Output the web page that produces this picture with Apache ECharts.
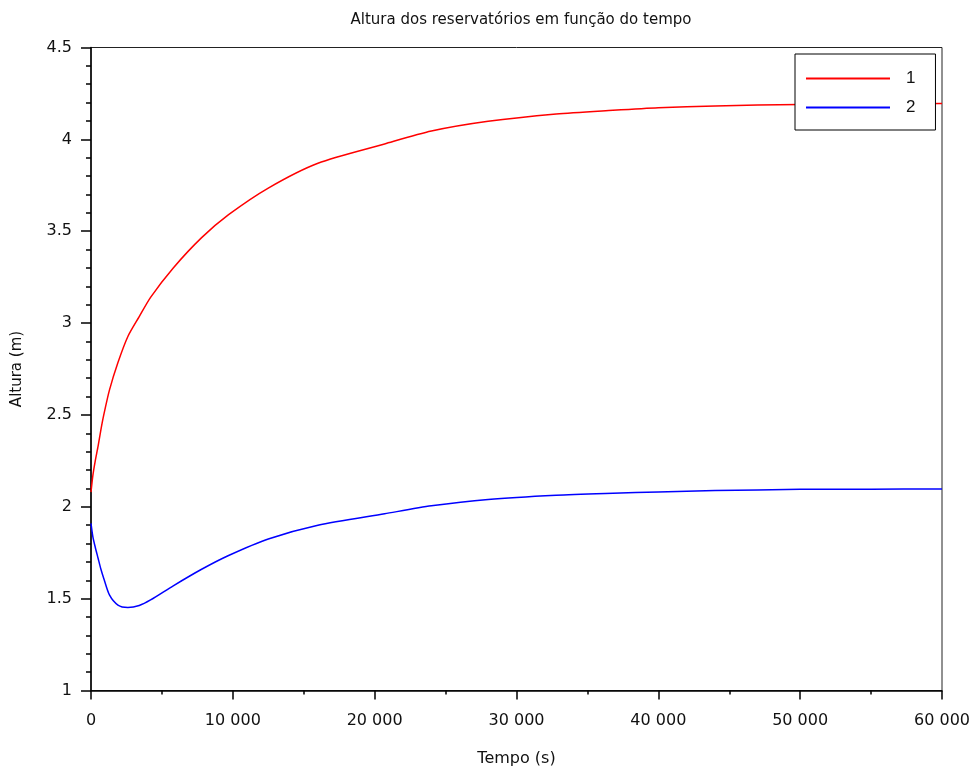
<!DOCTYPE html>
<html>
<head>
<meta charset="utf-8">
<script src="https://cdn.jsdelivr.net/npm/echarts@6/dist/echarts.min.js"></script>
<style>html,body{margin:0;padding:0;background:#fff}#c{width:977px;height:770px}</style>
</head>
<body>
<div id="c"></div>
<script>
var titleText = 'Altura dos reservatórios em função do tempo';
var xName = 'Tempo (s)';
var yName = 'Altura (m)';
var seriesNames = ['1', '2'];
var time = [0, 130, 300, 500, 700, 900, 1300, 1900, 2600, 3400, 4200, 5800, 7800, 9700, 12500, 16000, 20700, 24000, 28000, 32800, 36800, 40000, 44000, 50000, 55000, 60000];
var h1 = [2.08, 2.17, 2.25, 2.33, 2.42, 2.50, 2.635, 2.785, 2.927, 3.035, 3.14, 3.30, 3.465, 3.59, 3.735, 3.87, 3.975, 4.045, 4.098, 4.138, 4.158, 4.172, 4.182, 4.19, 4.193, 4.195];
var h2 = [1.91, 1.838, 1.78, 1.72, 1.66, 1.61, 1.52, 1.465, 1.452, 1.463, 1.493, 1.57, 1.66, 1.735, 1.825, 1.90, 1.962, 2.005, 2.04, 2.063, 2.074, 2.081, 2.088, 2.095, 2.096, 2.097];

function pairs(xs, ys) { return xs.map(function (x, i) { return [x, ys[i]]; }); }
function fmtThousands(v) { return String(v).replace(/\B(?=(\d{3})+(?!\d))/g, ' '); }

var chart = echarts.init(document.getElementById('c'), null, {renderer: 'canvas'});
var axisFont = {fontFamily: 'DejaVu Sans', fontSize: 16, color: '#111'};
chart.setOption({
  animation: false,
  backgroundColor: '#fff',
  title: {
    text: titleText, left: 516, top: 8, textAlign: 'center',
    textStyle: {fontFamily: 'DejaVu Sans', fontSize: 15, fontWeight: 'normal', color: '#111'}
  },
  grid: {left: 91, right: 35, top: 47.5, bottom: 79.5, show: true, borderColor: '#222', borderWidth: 1,
         containLabel: false, outerBoundsMode: 'none'},
  legend: {
    orient: 'vertical', left: 795, top: 54,
    padding: [16, 20, 14, 10], itemGap: 12,
    itemWidth: 84, itemHeight: 14,
    itemStyle: {opacity: 0},
    borderColor: '#000', borderWidth: 1, backgroundColor: '#fff',
    textStyle: {fontFamily: 'Liberation Sans', fontSize: 17, color: '#111', padding: [0, 0, 0, 11]},
    data: seriesNames
  },
  xAxis: {
    type: 'value', min: 0, max: 60000, interval: 10000,
    name: xName, nameLocation: 'middle', nameGap: 60,
    nameTextStyle: {fontFamily: 'DejaVu Sans', fontSize: 16, color: '#111'},
    axisLine: {show: true, lineStyle: {color: '#000', width: 1.5}},
    axisTick: {show: true, inside: false, length: 9, lineStyle: {color: '#000', width: 1.5}},
    minorTick: {show: true, splitNumber: 2, length: 4, lineStyle: {color: '#000', width: 1.5}},
    splitLine: {show: false},
    axisLabel: Object.assign({margin: 22, formatter: fmtThousands}, axisFont)
  },
  yAxis: {
    type: 'value', min: 1, max: 4.5, interval: 0.5,
    name: yName, nameLocation: 'middle', nameGap: 66, nameRotate: 90,
    nameTextStyle: {fontFamily: 'DejaVu Sans', fontSize: 15, color: '#111'},
    axisLine: {show: true, lineStyle: {color: '#000', width: 1.5}},
    axisTick: {show: true, inside: false, length: 10, lineStyle: {color: '#000', width: 1.5}},
    minorTick: {show: true, splitNumber: 5, length: 5, lineStyle: {color: '#000', width: 1.5}},
    splitLine: {show: false},
    axisLabel: Object.assign({margin: 19}, axisFont)
  },
  series: [
    {name: seriesNames[0], type: 'line', data: pairs(time, h1), smooth: 0.25, symbol: 'none',
     lineStyle: {color: '#ff0000', width: 1.5}, itemStyle: {color: '#ff0000'}},
    {name: seriesNames[1], type: 'line', data: pairs(time, h2), smooth: 0.25, symbol: 'none',
     lineStyle: {color: '#0000ff', width: 1.5}, itemStyle: {color: '#0000ff'}}
  ]
});
</script>
</body>
</html>
